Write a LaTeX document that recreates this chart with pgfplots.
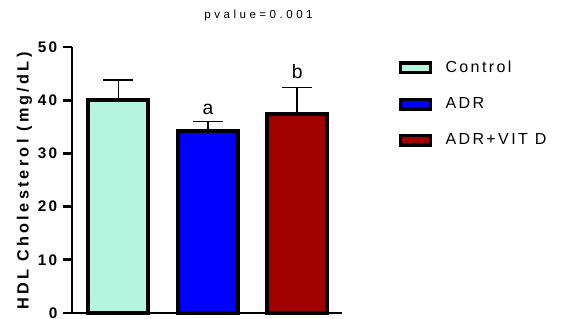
\documentclass[border=0pt]{standalone}
\usepackage{fontspec}
\setmainfont{Liberation Sans}
\newfontfamily\spaced[LetterSpace=15]{Liberation Sans}
\newfontfamily\lspaced[LetterSpace=20]{Liberation Sans}
\newfontfamily\wspaced[LetterSpace=30]{Liberation Sans}
\usepackage{pgfplots}
\pgfplotsset{compat=1.18}
\definecolor{ctrl}{HTML}{B3F5DE}
\definecolor{adr}{HTML}{0000FF}
\definecolor{vitd}{HTML}{A00000}
\begin{document}
\begin{tikzpicture}
\path[use as bounding box] (0,0) rectangle (425.25pt,238.5pt);
\node[font=\wspaced\fontsize{8.7}{10}\selectfont, anchor=center] at (193.9pt,226.5pt) {pvalue=0.001};
\begin{axis}[
  at={(54pt,3.75pt)}, anchor=south west,
  scale only axis, width=202.5pt, height=199.5pt,
  xmin=-0.52, xmax=2.5, ymin=0, ymax=50,
  axis x line=bottom, axis y line=left,
  axis line style={-, line width=2pt},
  xtick=\empty,
  ytick={0,10,20,30,40,50},
  tick style={line width=2pt, black},
  major tick length=7pt,
  tick align=outside,
  /pgf/number format/assume math mode=true,
  yticklabel style={font=\spaced\bfseries\fontsize{11.5}{13}\selectfont, xshift=-0.5pt},
  ylabel={HDL Cholesterol (mg/dL)},
  ylabel style={at={(axis description cs:-0.176,0.497)}, anchor=center, font=\lspaced\bfseries\fontsize{12.2}{14}\selectfont},
  clip=false,
  ybar, bar width=45pt, bar shift=0pt,
  legend style={at={(axis description cs:1.21,0.958)}, anchor=north west, draw=none, fill=none, inner sep=0pt,
    font=\spaced\fontsize{12}{14}\selectfont, row sep=13.2pt,
    /tikz/every odd column/.style={column sep=8pt}},
  legend cell align=left,
  legend image code/.code={\draw[line width=2.4pt, #1] (0pt,-3.7pt) rectangle (22.5pt,3.7pt);},
]
\addplot[fill=ctrl, draw=black, line width=3pt,
  error bars/.cd, y dir=plus, y explicit,
  error bar style={line width=1.3pt, black}, error mark options={rotate=90, mark size=11.25pt, line width=1.3pt, black}]
  coordinates {(0,40.1) +- (0,3.7)};
\addplot[fill=adr, draw=black, line width=3pt,
  error bars/.cd, y dir=plus, y explicit,
  error bar style={line width=1.3pt, black}, error mark options={rotate=90, mark size=11.25pt, line width=1.3pt, black}]
  coordinates {(1,34.3) +- (0,1.7)};
\addplot[fill=vitd, draw=black, line width=3pt,
  error bars/.cd, y dir=plus, y explicit,
  error bar style={line width=1.3pt, black}, error mark options={rotate=90, mark size=11.25pt, line width=1.3pt, black}]
  coordinates {(2,37.4) +- (0,5.0)};
\legend{Control, ADR, ADR+VIT D}
\node[font=\fontsize{14.5}{16}\selectfont, anchor=center] at (axis cs:1,38.2) {a};
\node[font=\fontsize{14.5}{16}\selectfont, anchor=center] at (axis cs:2,45.3) {b};
\end{axis}
\end{tikzpicture}
\end{document}
